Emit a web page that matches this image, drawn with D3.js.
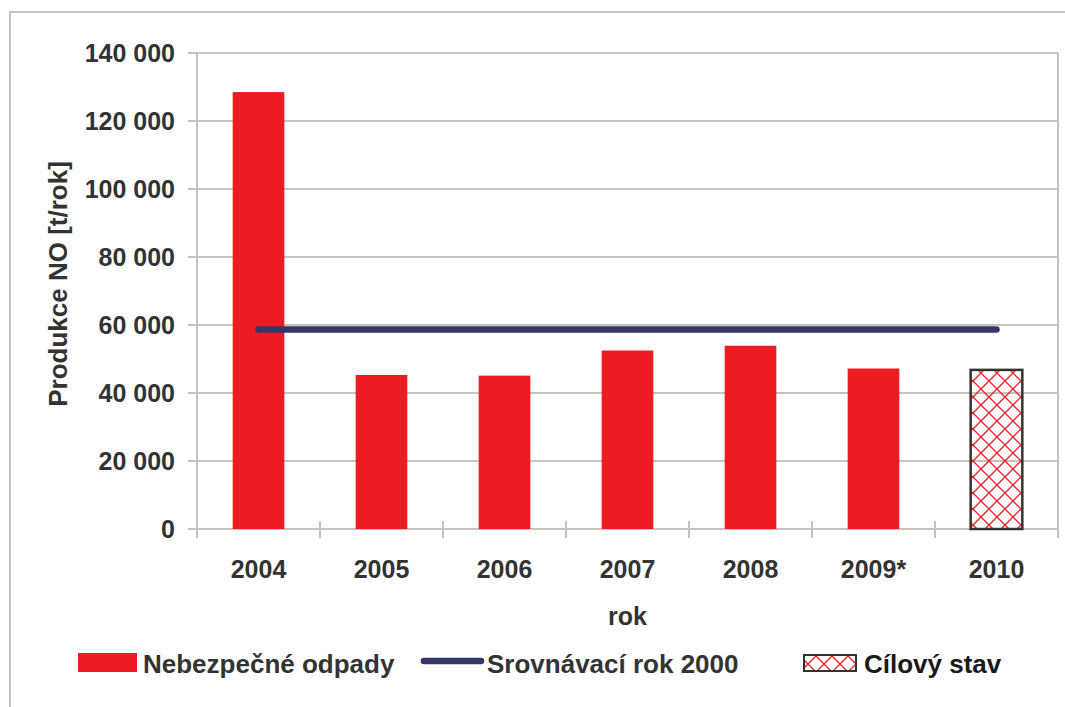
<!DOCTYPE html>
<head>
  <meta charset="utf-8">
  <script src="https://d3js.org/d3.v7.min.js"></script>
  <style>
    body { margin: 0; background: #fff; }
    text { font-family: "Liberation Sans", Arial, Helvetica, sans-serif; font-weight: bold; fill: #333; }
  </style>
</head>
<body>
  <script>
    // chart data
    var years = ['2004', '2005', '2006', '2007', '2008', '2009*', '2010'];
    var odpady = [128500, 45300, 45100, 52500, 53900, 47200, null];
    var cilovyStav = [null, null, null, null, null, null, 46800];
    var srovnavaciRok = [58700, 58700, 58700, 58700, 58700, 58700, 58700];
    var yTicks = [0, 20000, 40000, 60000, 80000, 100000, 120000, 140000];
    var legendLabels = ['Nebezpečné odpady', 'Srovnávací rok 2000', 'Cílový stav'];

    var outerWidth = 1065, outerHeight = 707;
    var margin = {top: 53, left: 197, right: 7, bottom: 178};
    var width = outerWidth - margin.left - margin.right,
      height = outerHeight - margin.top - margin.bottom;

    var red = '#ed1c24', navy = '#35366a', grid = '#c9c1bd';

    var svg = d3.select('body').append('svg')
      .attr('width', outerWidth)
      .attr('height', outerHeight);

    // hatch pattern for the target bar
    var pat = svg.append('defs').append('pattern')
      .attr('id', 'hatch')
      .attr('patternUnits', 'userSpaceOnUse')
      .attr('width', 16).attr('height', 16);
    pat.append('path')
      .attr('d', 'M0,0L16,16M16,0L0,16')
      .attr('stroke', red).attr('stroke-width', 1.3);

    // outer frame
    svg.append('rect')
      .attr('x', 10).attr('y', 12)
      .attr('width', 1200).attr('height', 900)
      .attr('fill', 'none').attr('stroke', grid).attr('stroke-width', 2);

    var g = svg.append('g')
      .attr('transform', 'translate(' + margin.left + ',' + margin.top + ')');

    var xScale = d3.scaleBand().domain(years).range([0, width]).paddingInner(0.58).paddingOuter(0.29);
    var xLine = d3.scaleBand().domain(years).range([0, width]);
    var yScale = d3.scaleLinear().domain([0, 140000]).range([height, 0]);

    // gridlines
    g.selectAll('.grid').data(yTicks).enter().append('line')
      .attr('x1', -9).attr('x2', width)
      .attr('y1', function(d) { return yScale(d); })
      .attr('y2', function(d) { return yScale(d); })
      .attr('stroke', grid).attr('stroke-width', 2);

    // right border of plot
    g.append('line')
      .attr('x1', width).attr('x2', width)
      .attr('y1', 0).attr('y2', height)
      .attr('stroke', grid).attr('stroke-width', 2);

    // y axis line
    g.append('line')
      .attr('x1', 0).attr('x2', 0)
      .attr('y1', 0).attr('y2', height + 9)
      .attr('stroke', grid).attr('stroke-width', 2);

    // x tick marks between categories
    g.selectAll('.xtick').data(years.concat(['end'])).enter().append('line')
      .attr('x1', function(d, i) { return i * xLine.step(); })
      .attr('x2', function(d, i) { return i * xLine.step(); })
      .attr('y1', height - 8).attr('y2', height + 9)
      .attr('stroke', grid).attr('stroke-width', 2);

    // y labels
    var fmt = function(d) { return d3.format(',')(d).replace(/,/g, ' '); };
    g.selectAll('.ylab').data(yTicks).enter().append('text')
      .attr('x', -22)
      .attr('y', function(d) { return yScale(d); })
      .attr('dy', '0.36em')
      .attr('text-anchor', 'end')
      .style('font-size', '25px')
      .text(fmt);

    // x labels
    g.selectAll('.xlab').data(years).enter().append('text')
      .attr('x', function(d) { return xLine(d) + xLine.bandwidth() / 2; })
      .attr('y', height + 49)
      .attr('text-anchor', 'middle')
      .style('font-size', '25px')
      .text(function(d) { return d; });

    // axis titles
    g.append('text')
      .attr('x', width / 2).attr('y', height + 96)
      .attr('text-anchor', 'middle')
      .style('font-size', '25px')
      .text('rok');
    svg.append('text')
      .attr('transform', 'translate(67,284) rotate(-90)')
      .attr('text-anchor', 'middle')
      .style('font-size', '26px')
      .text('Produkce NO [t/rok]');

    // bars
    g.selectAll('.bar').data(years.filter(function(d, i) { return odpady[i] != null; }))
      .enter().append('rect')
      .attr('x', function(d) { return xScale(d); })
      .attr('width', xScale.bandwidth())
      .attr('y', function(d) { return yScale(odpady[years.indexOf(d)]); })
      .attr('height', function(d) { return height - yScale(odpady[years.indexOf(d)]); })
      .attr('fill', red);

    // target bar
    g.selectAll('.target').data(years.filter(function(d, i) { return cilovyStav[i] != null; }))
      .enter().append('rect')
      .attr('x', function(d) { return xScale(d); })
      .attr('width', xScale.bandwidth())
      .attr('y', function(d) { return yScale(cilovyStav[years.indexOf(d)]); })
      .attr('height', function(d) { return height - yScale(cilovyStav[years.indexOf(d)]); })
      .attr('fill', 'url(#hatch)')
      .attr('stroke', '#333').attr('stroke-width', 2.5);

    // comparison line
    var line = d3.line()
      .x(function(d, i) { return xLine(years[i]) + xLine.bandwidth() / 2; })
      .y(function(d) { return yScale(d); });
    g.append('path')
      .datum(srovnavaciRok)
      .attr('d', line)
      .attr('fill', 'none')
      .attr('stroke', navy).attr('stroke-width', 6.5)
      .attr('stroke-linecap', 'round');

    // legend
    var leg = svg.append('g');
    leg.append('rect').attr('x', 78).attr('y', 653).attr('width', 59).attr('height', 19).attr('fill', red);
    leg.append('text').attr('x', 143).attr('y', 673).style('font-size', '26px').text(legendLabels[0]);
    leg.append('line').attr('x1', 424).attr('x2', 481).attr('y1', 661).attr('y2', 661)
      .attr('stroke', navy).attr('stroke-width', 6.5).attr('stroke-linecap', 'round');
    leg.append('text').attr('x', 487).attr('y', 673).style('font-size', '26px').text(legendLabels[1]);
    leg.append('rect').attr('x', 804).attr('y', 655).attr('width', 52).attr('height', 16)
      .attr('fill', 'url(#hatch)').attr('stroke', '#333').attr('stroke-width', 2);
    leg.append('text').attr('x', 864).attr('y', 673).style('font-size', '26px').style('fill', '#1a1a1a')
      .text(legendLabels[2]);
  </script>
</body>
